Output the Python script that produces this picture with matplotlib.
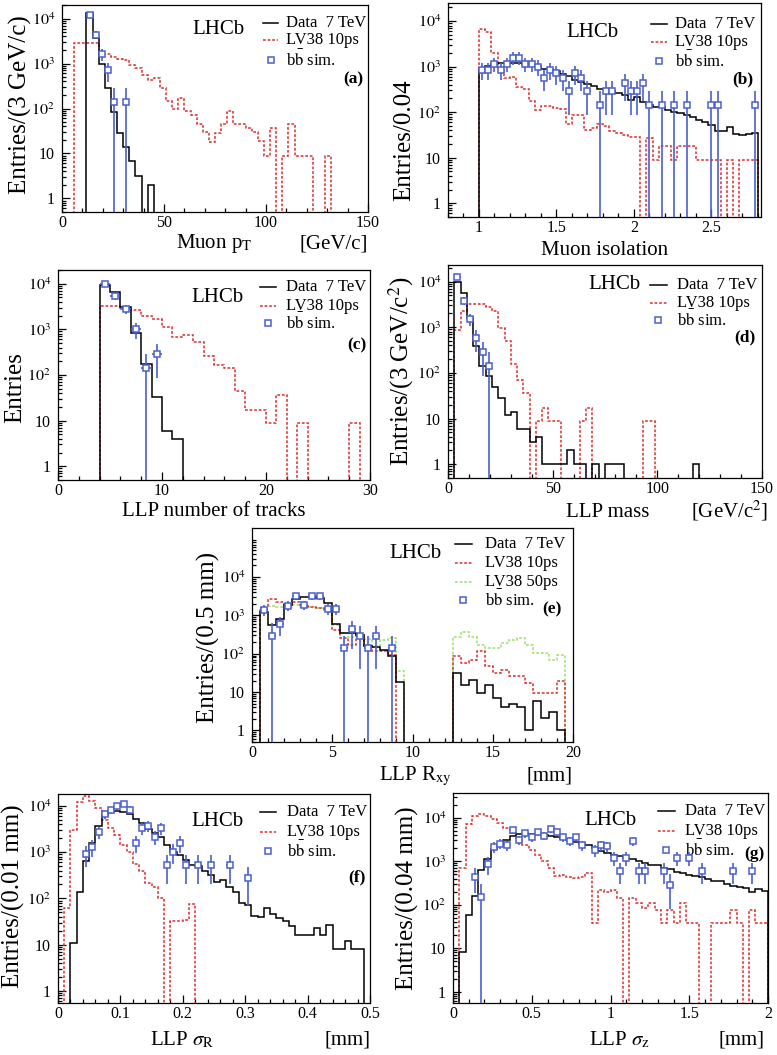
#!/usr/bin/env python3
"""
LLP search control plots (a)-(g): Data 7 TeV vs LV38 signal MC vs bb simulation
"""

import numpy as np
import matplotlib
matplotlib.use('Agg')
import matplotlib.pyplot as plt
from matplotlib.ticker import (FixedLocator, FixedFormatter, MultipleLocator,
                               LogLocator, NullFormatter, FuncFormatter)

plt.rcParams['font.family'] = ['Liberation Serif', 'DejaVu Serif']
plt.rcParams['mathtext.fontset'] = 'stix'

RED = '#d8302f'
GREEN = '#9ee06b'
BLUE = '#4a5fd0'
FLOOR = 1e-3

# ---------------- (a) Muon pT, 3 GeV/c bins ----------------
a_bw = 3
a_data_lo = 12
a_data = [13000, 3700, 1000, 290, 84, 29, 14, 6.7, 3.1, 0, 2]
a_sig_lo = 6
a_sig = [2800, 2800, 2800, 2800, 1650, 1600, 1400, 1250, 1200, 930, 780, 550,
         430, 470, 280, 150, 100, 175, 90, 70, 46, 30, 18, 28, 46, 90, 46, 46,
         36, 30, 19, 9, 36, 0, 9, 46, 9, 9, 9, 0, 0, 9]
a_bb_x = [13.5, 16.5, 19.5, 22.5, 25.5, 31.5]
a_bb = [12000, 4400, 1600, 700, 140, 140]
a_bb_err = [1300, 800, 480, 320, 140, 140]

# ---------------- (b) Muon isolation, 0.04 bins ----------------
b_bw = 0.04
b_lo = 1.0
b_data = [900, 1060, 1150, 1180, 1190, 1190, 1190, 1150, 1100, 1060, 900, 870,
          790, 700, 610, 520, 460, 425, 370, 330, 320, 295, 265, 235, 185, 215,
          170, 142, 130, 128, 110, 100, 94, 86, 79, 69, 61, 52, 39, 39, 48, 34,
          31, 33, 35]
b_sig = [6800, 5800, 2000, 850, 560, 600, 360, 330, 180, 110, 140, 135, 125,
         120, 56, 85, 85, 40, 45, 55, 50, 38, 35, 32, 28, 28, 0, 27, 9, 18, 18,
         9, 18, 18, 18, 9, 9, 9, 9, 0, 9, 0, 9, 9, 9]
b_bb_x = [1.02, 1.06, 1.10, 1.14, 1.18, 1.22, 1.26, 1.30, 1.34, 1.38, 1.42,
          1.46, 1.50, 1.54, 1.58, 1.62, 1.66, 1.70, 1.78, 1.82, 1.86, 1.94,
          1.98, 2.02, 2.06, 2.10, 2.18, 2.26, 2.34, 2.50, 2.54, 2.78]
b_bb = [860, 860, 1150, 860, 1150, 1575, 1575, 1150, 1150, 1000, 575, 860, 715,
        575, 285, 715, 575, 285, 143, 285, 285, 430, 285, 285, 430, 143, 143,
        143, 143, 143, 143, 143]
b_bb_err = [350, 350, 405, 350, 405, 475, 475, 405, 405, 380, 285, 350, 320,
            285, 200, 320, 285, 200, 143, 200, 200, 250, 200, 200, 250, 143,
            143, 143, 143, 143, 143, 143]

# ---------------- (c) LLP number of tracks ----------------
c_bw = 1
c_lo = 4
c_data = [9300, 6600, 3100, 830, 170, 33, 5.8, 3.9]
c_sig = [3200, 3200, 2900, 2700, 2000, 1700, 1150, 680, 740, 520, 260, 165,
         140, 45, 17.5, 17.5, 8.9, 36, 0, 9, 0, 0, 0, 0, 9]
c_bb_x = [4.5, 5.5, 6.5, 7.5, 8.5, 9.5]
c_bb = [10000, 5300, 2850, 1000, 145, 285]
c_bb_err = [1200, 870, 640, 380, 145, 200]

# ---------------- (d) LLP mass, 3 GeV/c2 bins ----------------
d_bw = 3
d_lo = 3
d_data = [10000, 5500, 1600, 380, 140, 85, 50, 28, 12, 14, 6, 6, 3, 4, 1, 1,
          1, 1, 2, 1, 1, 0, 1, 0, 1, 1, 1, 0, 0, 0, 0, 0, 0, 0, 0, 0, 0, 0, 1]
d_sig = [880, 2300, 3250, 3250, 3200, 2800, 2300, 960, 490, 160, 70, 36, 0, 9,
         17, 9, 9, 0, 0, 0, 9, 17, 0, 0, 0, 0, 0, 0, 0, 0, 9, 9]
d_bb_x = [4.5, 7.5, 10.5, 13.5, 16.5, 19.5]
d_bb = [12300, 3800, 1500, 570, 285, 143]
d_bb_err = [1330, 740, 460, 285, 200, 143]

# ---------------- (e) LLP Rxy, 0.5 mm bins ----------------
e_bw = 0.5
e_lo = 0.5
e_data = [1200, 570, 800, 1900, 2600, 3000, 3000, 2800, 2100, 600, 350, 340,
          310, 160, 150, 127, 85, 18, 0, 0, 0, 0, 0, 0, 31, 15.5, 21, 9.4, 15,
          7, 4, 5, 4, 1, 5.7, 2.1, 3, 1]
e_sig10 = [1550, 2600, 2300, 1900, 2200, 1900, 1650, 1550, 1400, 420, 260, 170,
           310, 155, 115, 120, 94, 0, 0, 0, 0, 0, 0, 0, 85, 57, 70, 115, 47, 31,
           38, 26, 26, 17, 9.4, 9.4, 9.4, 19]
e_sig50 = [1550, 1800, 1700, 1650, 1900, 1700, 1650, 1550, 1450, 570, 350, 280,
           280, 240, 160, 230, 255, 35, 0, 0, 0, 0, 0, 0, 280, 380, 280, 170,
           140, 140, 190, 230, 255, 170, 105, 105, 70, 94]
e_bb_x = [0.75, 1.25, 1.75, 2.25, 2.75, 3.25, 3.75, 4.25, 4.75, 5.25, 5.75,
          6.25, 6.75, 7.25, 7.75, 8.75]
e_bb = [1400, 290, 590, 1800, 3250, 1900, 3150, 3250, 1500, 1500, 145, 435,
        290, 145, 290, 145]
e_bb_err = [460, 350, 300, 520, 700, 530, 690, 700, 470, 470, 145, 300, 250,
            145, 250, 145]

# ---------------- (f) LLP sigma_R, 0.01 mm bins ----------------
f_bw = 0.01
f_data_lo = 0.02
f_data = [11, 140, 630, 1550, 3700, 6300, 7400, 7800, 7400, 6600, 5300, 4200,
          3100, 2550, 2100, 1430, 1020, 870, 660, 530, 490, 400, 320, 230, 250,
          175, 140, 80, 73, 42, 40, 62, 45, 38, 32, 25, 16.5, 16.5, 16.5, 23,
          16.5, 27, 8.1, 8.1, 12, 8.1, 8.1]
f_sig_lo = 0.01
f_sig = [62, 3000, 12000, 16000, 13000, 8800, 5000, 3300, 2300, 1400, 1000,
         560, 400, 215, 180, 100, 0, 33, 33, 35, 75]
f_bb_x = [0.045, 0.055, 0.065, 0.075, 0.085, 0.095, 0.105, 0.115, 0.125,
          0.135, 0.145, 0.155, 0.165, 0.175, 0.185, 0.195, 0.205, 0.225,
          0.245, 0.275, 0.305]
f_bb = [920, 1320, 2700, 6500, 8000, 9800, 11000, 8300, 1600, 3250, 3700,
        2150, 3250, 530, 1020, 1600, 530, 530, 530, 530, 270]
f_bb_err = [450, 550, 800, 1300, 1450, 1600, 1700, 1500, 650, 930, 1000, 750,
            930, 330, 480, 650, 330, 330, 330, 330, 200]

# ---------------- (g) LLP sigma_z, 0.04 mm bins ----------------
g_bw = 0.04
g_lo = 0.04
g_data = [8, 59, 160, 620, 1130, 1860, 2400, 3150, 3800, 4150, 4300, 4300,
          4300, 4000, 3800, 3600, 3300, 3100, 2800, 2500, 2300, 2000, 1700,
          1550, 1400, 1300, 1200, 1100, 1000, 920, 830, 800, 700, 650, 560,
          540, 480, 450, 430, 390, 360, 345, 300, 275, 255, 240, 200, 230, 210]
g_sig = [700, 7000, 11000, 12000, 11000, 9100, 7700, 5900, 4500, 3150, 2400,
         1800, 1400, 1000, 700, 450, 490, 430, 410, 430, 540, 38, 220, 200,
         220, 140, 0, 140, 110, 83, 110, 77, 38, 77, 38, 110, 38, 38, 0, 0, 38,
         38, 38, 77, 38, 0, 77, 38, 38]
g_bb_x = [0.14, 0.18, 0.22, 0.26, 0.30, 0.34, 0.38, 0.42, 0.46, 0.50, 0.54,
          0.58, 0.62, 0.66, 0.70, 0.74, 0.78, 0.82, 0.90, 0.94, 0.98, 1.02,
          1.06, 1.10, 1.14, 1.18, 1.22, 1.34, 1.38, 1.42, 1.50, 1.58, 1.78,
          1.90]
g_bb = [440, 150, 880, 2150, 2550, 2350, 5200, 3000, 4350, 3550, 4650, 3800,
        5400, 4650, 3550, 2900, 3550, 2350, 1800, 2350, 2200, 1200, 610, 1200,
        2900, 610, 610, 610, 290, 1200, 1200, 610, 610, 610]
g_bb_err = [250, 150, 400, 600, 650, 620, 900, 700, 850, 760, 870, 780, 930,
            870, 760, 700, 760, 620, 540, 620, 600, 440, 310, 440, 700, 310,
            310, 310, 210, 440, 440, 310, 310, 310]

LEG_DATA = 'Data  7 TeV'
LEG_SIG10 = 'LV38 10ps'
LEG_SIG50 = 'LV38 50ps'
LEG_BB = r'b$\bar{\rm b}$ sim.'


def edges(lo, bw, n):
    return np.round(lo + bw * np.arange(n + 1), 6)


def hist(ax, lo, bw, vals, color, ls='-', lw=1.1):
    v = np.asarray(vals, float)
    v = np.where(v > 0, v, FLOOR)
    ax.stairs(v, edges(lo, bw, len(v)), baseline=FLOOR, color=color,
              linestyle=ls, linewidth=lw, zorder=3)


def sim(ax, x, vals, err, half):
    x = np.asarray(x, float)
    v = np.asarray(vals, float)
    e = np.asarray(err, float)
    low = np.maximum(v - e, FLOOR)
    ax.vlines(x, low, v + e, color=BLUE, lw=1.2, zorder=4)
    ax.hlines(v, x - half, x + half, color=BLUE, lw=1.2, zorder=4)
    ax.plot(x, v, 's', ms=4.3, mfc='white', mec=BLUE, mew=1.1, ls='none',
            zorder=5)


DASH = (0, (1.8, 1.2))


def legend(ax, x0, x1, xt, ys, with50=False):
    entries = [('line', 'black', '-', LEG_DATA), ('line', RED, DASH, LEG_SIG10)]
    if with50:
        entries.append(('line', GREEN, DASH, LEG_SIG50))
    entries.append(('mark', BLUE, None, LEG_BB))
    for y, (kind, col, ls, lab) in zip(ys, entries):
        if kind == 'line':
            ax.plot([x0, x1], [y, y], transform=ax.transAxes, color=col,
                    ls=ls, lw=1.1, clip_on=False)
        else:
            ax.plot([(x0 + x1) / 2], [y], 's', transform=ax.transAxes,
                    ms=4.3, mfc='white', mec=BLUE, mew=1.1, clip_on=False)
        ax.text(xt, y, lab, transform=ax.transAxes, ha='left', va='center',
                fontsize=12)


def style(ax, xlim, ylim, xmajor, xminor):
    ax.set_yscale('log')
    ax.set_xlim(*xlim)
    ax.set_ylim(*ylim)
    ax.xaxis.set_major_locator(MultipleLocator(xmajor))
    ax.xaxis.set_minor_locator(MultipleLocator(xminor))
    ax.xaxis.set_major_formatter(FuncFormatter(lambda v, p: f'{v:g}'))
    ax.yaxis.set_major_locator(FixedLocator([1, 10, 100, 1e3, 1e4]))
    ax.yaxis.set_major_formatter(FixedFormatter(
        ['1', '10', '$10^{2}$', '$10^{3}$', '$10^{4}$']))
    ax.yaxis.set_minor_locator(LogLocator(base=10, subs=np.arange(2, 10) * 1.0,
                                          numticks=20))
    ax.yaxis.set_minor_formatter(NullFormatter())
    ax.tick_params(which='both', direction='in', top=False, right=False,
                   labelsize=11.5, width=0.9)
    ax.tick_params(which='major', length=6)
    ax.tick_params(which='minor', length=3)
    ax.tick_params(axis='x', which='major', pad=2)
    ax.tick_params(axis='y', which='major', pad=5)
    for s in ax.spines.values():
        s.set_linewidth(0.9)


def texts(ax, ylabel, ypos, xlabel, xpos, unit, upos, lhcb, tag, tagpos):
    ax.text(ypos[0], ypos[1], ylabel, transform=ax.transAxes, rotation=90,
            ha='center', va='center', fontsize=18)
    ax.text(xpos[0], xpos[1], xlabel, transform=ax.transAxes, ha='center',
            va='baseline', fontsize=15)
    if unit:
        ax.text(upos, xpos[1], unit, transform=ax.transAxes, ha='right',
                va='baseline', fontsize=15)
    ax.text(lhcb[0], lhcb[1], 'LHCb', transform=ax.transAxes, ha='center',
            va='center', fontsize=15)
    ax.text(tagpos[0], tagpos[1], tag, transform=ax.transAxes, ha='right',
            va='center', fontsize=12.5, fontweight='bold')


fig = plt.figure(figsize=(7.77, 10.55), dpi=100)
W, H = 777.0, 1055.0


def add_axes(l, r, t, b):
    return fig.add_axes([l / W, 1 - b / H, (r - l) / W, (b - t) / H])


# =========== (a) ===========
ax = add_axes(62, 368, 5, 212)
style(ax, (0, 150), (0.5, 2e4), 50, 10)
hist(ax, a_sig_lo, a_bw, a_sig, RED, DASH)
hist(ax, a_data_lo, a_bw, a_data, 'black')
sim(ax, a_bb_x, a_bb, a_bb_err, a_bw / 2)
legend(ax, 0.657, 0.706, 0.732, [0.913, 0.831, 0.734])
texts(ax, 'Entries/(3 GeV/c)', (-0.135, 0.52), r'Muon p$_{\rm T}$',
      (0.498, -0.174), '[GeV/c]', 1.0, (0.51, 0.88), '(a)', (0.985, 0.64))

# =========== (b) ===========
ax = add_axes(448, 761, 3, 217)
style(ax, (0.8, 2.82), (0.5, 2.5e4), 0.5, 0.1)
hist(ax, b_lo, b_bw, b_sig, RED, DASH)
hist(ax, b_lo, b_bw, b_data, 'black')
sim(ax, b_bb_x, b_bb, b_bb_err, b_bw / 2)
legend(ax, 0.649, 0.70, 0.725, [0.90, 0.82, 0.73])
texts(ax, 'Entries/0.04', (-0.14, 0.36), 'Muon isolation', (0.50, -0.178),
      None, 1.0, (0.46, 0.86), '(b)', (0.975, 0.645))

# =========== (c) ===========
ax = add_axes(58, 370, 270, 480)
style(ax, (0, 30), (0.5, 2e4), 10, 2)
hist(ax, c_lo, c_bw, c_sig, RED, DASH)
hist(ax, c_lo, c_bw, c_data, 'black')
sim(ax, c_bb_x, c_bb, c_bb_err, c_bw / 2)
legend(ax, 0.647, 0.70, 0.731, [0.92, 0.83, 0.75])
texts(ax, 'Entries', (-0.138, 0.44), 'LLP number of tracks', (0.498, -0.171),
      None, 1.0, (0.51, 0.87), '(c)', (0.99, 0.64))

# =========== (d) ===========
ax = add_axes(448, 762, 265, 478)
style(ax, (0, 150), (0.5, 2.3e4), 50, 10)
hist(ax, d_lo, d_bw, d_sig, RED, DASH)
hist(ax, d_lo, d_bw, d_data, 'black')
sim(ax, d_bb_x, d_bb, d_bb_err, d_bw / 2)
legend(ax, 0.643, 0.697, 0.73, [0.906, 0.82, 0.74])
texts(ax, 'Entries/(3 GeV/c$^{2}$)', (-0.15, 0.50), 'LLP mass',
      (0.508, -0.185), '[GeV/c$^{2}$]', 1.02, (0.53, 0.91), '(d)',
      (0.98, 0.66))

# =========== (e) ===========
ax = add_axes(252, 573, 528, 742)
style(ax, (0, 20), (0.5, 1.9e5), 5, 1)
hist(ax, e_lo, e_bw, e_sig50, GREEN, DASH)
hist(ax, e_lo, e_bw, e_sig10, RED, DASH)
hist(ax, e_lo, e_bw, e_data, 'black')
sim(ax, e_bb_x, e_bb, e_bb_err, e_bw / 2)
legend(ax, 0.632, 0.685, 0.726, [0.925, 0.836, 0.748, 0.664], with50=True)
texts(ax, 'Entries/(0.5 mm)', (-0.135, 0.49), r'LLP R$_{\rm xy}$',
      (0.508, -0.178), '[mm]', 0.997, (0.51, 0.88), '(e)', (0.965, 0.62))

# =========== (f) ===========
ax = add_axes(58, 370, 794, 1003)
style(ax, (0, 0.5), (0.55, 1.8e4), 0.1, 0.02)
hist(ax, f_sig_lo, f_bw, f_sig, RED, DASH)
hist(ax, f_data_lo, f_bw, f_data, 'black')
sim(ax, f_bb_x, f_bb, f_bb_err, f_bw / 2)
legend(ax, 0.647, 0.70, 0.734, [0.914, 0.818, 0.727])
texts(ax, 'Entries/(0.01 mm)', (-0.144, 0.51), r'LLP $\sigma_{\rm R}$',
      (0.397, -0.20), '[mm]', 1.0, (0.51, 0.87), '(f)', (0.985, 0.60))

# =========== (g) ===========
ax = add_axes(453, 768, 793, 1003)
style(ax, (0, 2), (0.55, 3.7e4), 0.5, 0.1)
hist(ax, g_lo, g_bw, g_sig, RED, DASH)
hist(ax, g_lo, g_bw, g_data, 'black')
sim(ax, g_bb_x, g_bb, g_bb_err, g_bw / 2)
legend(ax, 0.65, 0.705, 0.737, [0.914, 0.82, 0.73])
texts(ax, 'Entries/(0.04 mm)', (-0.146, 0.50), r'LLP $\sigma_{\rm z}$',
      (0.53, -0.20), '[mm]', 0.99, (0.50, 0.87), '(g)', (0.99, 0.71))

fig.savefig('out.png', dpi=100)
